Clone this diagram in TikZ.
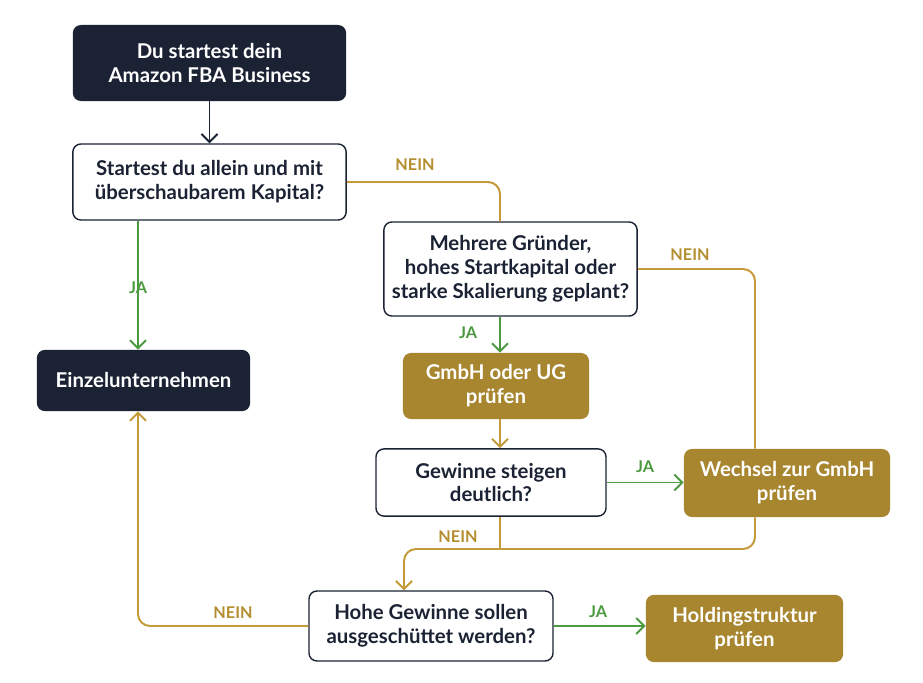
\documentclass[tikz,border=0pt]{standalone}
\usepackage{fontspec}
\setmainfont{Lato}
\usetikzlibrary{arrows.meta}

\definecolor{navy}{HTML}{1A2233}
\definecolor{gold}{HTML}{A8862F}
\definecolor{goldline}{HTML}{C39B3B}
\definecolor{goldtext}{HTML}{B48E30}
\definecolor{okgreen}{HTML}{4C9A3F}

\tikzset{
  box/.style={rounded corners=0.2cm, align=center, inner sep=0pt,
    font=\fontsize{14.5pt}{17pt}\selectfont\bfseries},
  darkbox/.style={box, fill=navy, text=white},
  askbox/.style={box, draw=navy, line width=1pt, fill=white, text=navy},
  goldbox/.style={box, fill=gold, text=white},
  arr/.style={-{Straight Barb[length=2mm,width=4mm]}},
  yes/.style={okgreen, line width=1.4pt},
  no/.style={goldline, line width=1.4pt, rounded corners=0.3cm},
  lbl/.style={font=\fontsize{11.5pt}{13pt}\selectfont\bfseries}
}

\begin{document}
\begin{tikzpicture}[x=0.025cm,y=-0.025cm]
\useasboundingbox (0,0) rectangle (923,683);

% boxes
\node[darkbox, minimum width=6.83cm, minimum height=1.9cm] (start) at (209.5,63) {Du startest dein\\Amazon FBA Business};
\node[askbox, minimum width=6.83cm, minimum height=1.9cm] (q1) at (209.5,182) {Startest du allein und mit\\überschaubarem Kapital?};
\node[darkbox, minimum width=5.33cm, minimum height=1.53cm] (einzel) at (143.5,380.5) {Einzelunternehmen};
\node[askbox, minimum width=6.33cm, minimum height=2.35cm] (q2) at (510.5,269) {Mehrere Gründer,\\hohes Startkapital oder\\starke Skalierung geplant?};
\node[goldbox, minimum width=4.65cm, minimum height=1.65cm] (gmbh) at (496,386) {GmbH oder UG\\prüfen};
\node[askbox, minimum width=5.75cm, minimum height=1.68cm] (q3) at (491,482.5) {Gewinne steigen\\deutlich?};
\node[goldbox, minimum width=5.15cm, minimum height=1.7cm] (wechsel) at (787,483) {Wechsel zur GmbH\\prüfen};
\node[askbox, minimum width=6.1cm, minimum height=1.75cm] (q4) at (431,626) {Hohe Gewinne sollen\\ausgeschüttet werden?};
\node[goldbox, minimum width=4.93cm, minimum height=1.68cm] (holding) at (744.5,628.5) {Holdingstruktur\\prüfen};

% line positions
\coordinate (lft) at (138,0);
\coordinate (mid) at (500,0);
\coordinate (rgt) at (755,0);
\coordinate (q4in) at (404,0);
\coordinate (jn) at (0,549);

% connectors
\draw[arr, navy, line width=1.4pt] (start) -- (q1);
\draw[arr, yes] (q1.south -| lft) -- (einzel.north -| lft);
\draw[no] (q1.east) -| (q2.north -| mid);
\draw[arr, yes] (q2.south -| mid) -- (gmbh.north -| mid);
\draw[no] (q2.east) -| (wechsel.north -| rgt);
\draw[arr, no] (gmbh.south -| mid) -- (q3.north -| mid);
\draw[arr, yes] (q3.east) -- (q3.east -| wechsel.west);
\draw[no] (q3.south -| mid) -- (jn -| mid);
\draw[arr, no] (wechsel.south -| rgt) |- (jn -| q4in) -- (q4.north -| q4in);
\draw[arr, yes] (q4.east) -- (q4.east -| holding.west);
\draw[arr, no] (q4.west) -| (einzel.south -| lft);

% labels
\node[lbl, okgreen] (ja1) at (138,288) {JA};
\node[lbl, goldtext] (nein1) at (415,165) {NEIN};
\node[lbl, okgreen] (ja2) at (468,333) {JA};
\node[lbl, goldtext] (nein2) at (690,255) {NEIN};
\node[lbl, okgreen] (ja3) at (645,467) {JA};
\node[lbl, goldtext] (nein3) at (458,537) {NEIN};
\node[lbl, okgreen] (ja4) at (598,612) {JA};
\node[lbl, goldtext] (nein4) at (233,613) {NEIN};

\end{tikzpicture}
\end{document}
